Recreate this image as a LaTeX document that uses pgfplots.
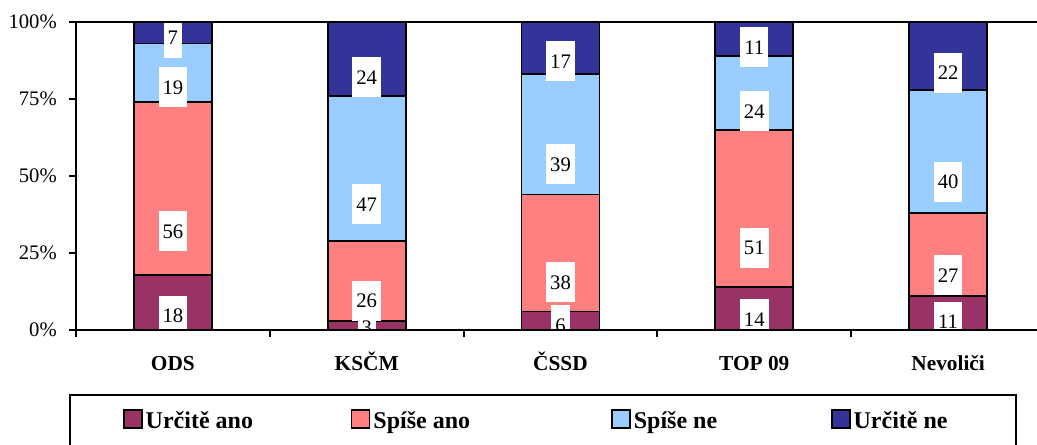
\documentclass[border=0pt]{standalone}
\usepackage{fontspec}
\setmainfont{Liberation Serif}
\usepackage{pgfplots}
\usepackage{pgfplotstable}
\pgfplotsset{compat=1.18}

\definecolor{uano}{RGB}{153,51,102}
\definecolor{sano}{RGB}{255,128,128}
\definecolor{sne}{RGB}{153,204,255}
\definecolor{une}{RGB}{51,51,153}

% 0 ODS, 1 KSCM, 2 CSSD, 3 TOP 09, 4 Nevolici
\pgfplotstableread{
x uano sano sne une
0 18 56 19 7
1 3  26 47 24
2 6  38 39 17
3 14 51 24 11
4 11 27 40 22
}\data

\pgfplotsset{
  geom/.style={
    at={(0,0)}, anchor=south west,
    scale only axis,
    width=726.75pt, height=231pt,
    ybar stacked, bar width=58.5pt,
    xmin=-0.5, xmax=4.5, ymin=0, ymax=100,
  },
  seg/.style={fill=#1, draw=black, line width=1.4pt},
}

\begin{document}
\begin{tikzpicture}
\useasboundingbox (-57pt,-85.5pt) rectangle (720.75pt,247.5pt);
\clip (-57pt,-85.5pt) rectangle (720.75pt,247.5pt);
\begin{axis}[
    geom,
    xtick={0,1,2,3,4},
    xticklabels={ODS,KSČM,ČSSD,TOP 09,Nevoliči},
    minor xtick={-0.5,0.5,1.5,2.5,3.5,4.5},
    ytick={0,25,50,75,100},
    yticklabels={0\%,25\%,50\%,75\%,100\%},
    tick align=outside, tick pos=left,
    major x tick style={draw=none},
    major tick length=5.25pt, minor tick length=5.25pt,
    tick style={line width=1.5pt, black},
    axis line style={line width=1.8pt},
    xticklabel style={font=\fontsize{16}{16}\selectfont\bfseries, anchor=base, inner sep=0pt, yshift=-24.75pt},
    yticklabel style={font=\fontsize{15.5}{15.5}\selectfont, anchor=east, inner sep=0pt, xshift=-9pt},
    legend columns=4,
    legend image code/.code={\draw[#1, line width=1.3pt] (0pt,0pt) rectangle (13.5pt,13.5pt);},
    legend style={at={(-0.00722,-0.2078)}, anchor=north west,
        draw=black, line width=1.5pt, inner xsep=39.75pt, inner ysep=10.75pt,
        column sep=0pt,
        font=\fontsize{18}{18}\selectfont\bfseries,
        nodes={inner sep=0pt, text height=14pt, text depth=16pt},
        cells={anchor=base west}},
]
\addplot[seg=uano] table[x=x, y=uano] {\data};
\addlegendentry{\makebox[156pt][l]{\hspace{2.25pt}Určitě ano}}
\addplot[seg=sano] table[x=x, y=sano] {\data};
\addlegendentry{\makebox[180.5pt][l]{\hspace{2.25pt}Spíše ano}}
\addplot[seg=sne] table[x=x, y=sne] {\data};
\addlegendentry{\makebox[150pt][l]{\hspace{2.25pt}Spíše ne}}
\addplot[seg=une] table[x=x, y=une] {\data};
\addlegendentry{\makebox[84pt][l]{\hspace{2.25pt}Určitě ne}}
\end{axis}

% value labels, clipped to the plot area
\begin{scope}
\clip (0.9pt,0.9pt) rectangle (725.85pt,230.1pt);
\begin{axis}[
    geom, hide axis,
    point meta=explicit symbolic,
    nodes near coords,
    every node near coord/.append style={anchor=center, fill=white, text=black,
        font=\fontsize{15.5}{15.5}\selectfont, inner xsep=3pt, inner ysep=0pt,
        minimum height=30pt, yshift=-\pgfplotspointmeta*0.5775pt},
]
\addplot[draw=none, fill=none] table[x=x, y=uano, meta=uano] {\data};
\addplot[draw=none, fill=none] table[x=x, y=sano, meta=sano] {\data};
\addplot[draw=none, fill=none] table[x=x, y=sne, meta=sne] {\data};
\addplot[draw=none, fill=none] table[x=x, y=une, meta=une] {\data};
\end{axis}
\end{scope}
\end{tikzpicture}
\end{document}
